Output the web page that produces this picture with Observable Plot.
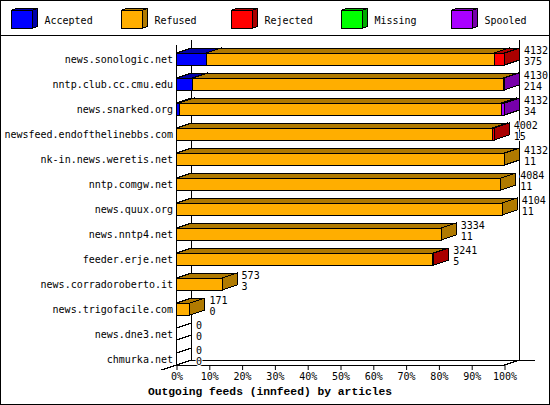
<!DOCTYPE html>
<html><head><meta charset="utf-8">
<script src="https://cdn.jsdelivr.net/npm/d3@7"></script>
<script src="https://cdn.jsdelivr.net/npm/@observablehq/plot@0.6"></script>
<style>
html,body{margin:0;padding:0;background:#fff}
#page{position:relative;width:550px;height:405px;overflow:hidden;background:#fff}
#page svg{display:block;background:transparent}
#border{position:absolute;left:0;top:0;width:550px;height:405px;box-sizing:border-box;border:1px solid #000;pointer-events:none}
#rule{height:1px;background:#000;position:absolute;left:0;top:35px;width:550px}
#caption{height:20px;text-align:left;padding-left:148px;font:bold 11.3px/14px "Liberation Mono","DejaVu Sans Mono",monospace;color:#000;white-space:pre}
</style></head><body>
<div id="page"><div id="legend"></div><div id="rule"></div><div id="main"></div><div id="caption">Outgoing feeds (innfeed) by articles</div><div id="border"></div></div>
<script>
const hosts = ["news.sonologic.net","nntp.club.cc.cmu.edu","news.snarked.org","newsfeed.endofthelinebbs.com","nk-in.news.weretis.net","nntp.comgw.net","news.quux.org","news.nntp4.net","feeder.erje.net","news.corradoroberto.it","news.trigofacile.com","news.dne3.net","chmurka.net"];
const seriesNames = ["Accepted","Refused","Rejected","Missing","Spooled"];
const frontColors = ["#0000ff","#ffae00","#ff0000","#00ff00","#aa00ff"];
const sideColors = ["#0000aa","#b07a00","#aa0000","#00aa00","#7700aa"];
// width of each segment, percent of the largest feed
const accepted = [9.07,4.9,0.8,0,0,0,0,0,0,0,0,0,0];
const refused  = [87.8,94.7,98.2,96.3,100,98.84,99.3,80.7,78.1,13.9,4.1,0,0];
const rejected = [3.13,0,0.2,0.55,0,0,0,0,0.33,0,0,0,0];
const missing  = [0,0,0,0,0,0,0,0,0,0,0,0,0];
const spooled  = [0,0.35,0.8,0,0,0,0,0,0,0,0,0,0];
const articles = [4132,4130,4132,4002,4132,4084,4104,3334,3241,573,171,0,0];
const sizes    = [375,214,34,15,11,11,11,11,5,3,0,0,0];
const xTicks = [0,10,20,30,40,50,60,70,80,90,100];

const seriesValues = [accepted,refused,rejected,missing,spooled];
const DX = 15, DY = 5;
const mono = '"DejaVu Sans Mono","Liberation Mono",monospace';

const segments = [];
hosts.forEach((host,i)=>{
  let start = 0;
  seriesValues.forEach((vals,s)=>{
    const w = vals[i];
    if (w > 0) { segments.push({host,s,x1:start,x2:start+w,fill:frontColors[s],side:sideColors[s]}); start += w; }
  });
  if (start === 0) segments.push({host,s:-1,x1:0,x2:0,fill:"none",side:"none"});
});
const rows = hosts.map((host,i)=>{
  const end = seriesValues.reduce((a,v)=>a+v[i],0);
  return {host,end,articles:articles[i],size:sizes[i]};
});

// Extrude each stacked bar into a box: top, right side, then front
function box(index, scales, values, dims, ctx){
  const g = d3.create("svg:g").attr("stroke","#000").attr("stroke-width",1).attr("shape-rendering","crispEdges").attr("stroke-linejoin","miter");
  const raw = scales.y.bandwidth;
  const bw = typeof raw === "function" ? raw() : raw;
  for (const i of index){
    const a=values.x1[i], b=values.x2[i], t=values.y[i], u=t+bw, d=segments[i];
    const poly=(pts,fill)=>g.append("polygon").attr("points",pts.map(p=>p.join(",")).join(" ")).attr("fill",fill);
    poly([[a,t],[a+DX,t-DY],[b+DX,t-DY],[b,t]],d.side);
    poly([[b,t],[b+DX,t-DY],[b+DX,u-DY],[b,u]],d.side);
    if (b>a) poly([[a,t],[b,t],[b,u],[a,u]],d.fill);
  }
  return g.node();
}

// Back wall, floor and front axis line
function walls(index, {x}, values, dims){
  const x0=x(0), x1=x(100), top=9, floor=329;
  const g=d3.create("svg:g").attr("stroke","#000").attr("fill","none").attr("shape-rendering","crispEdges");
  const seg=(a,b,c,e)=>g.append("line").attr("x1",a).attr("y1",b).attr("x2",c).attr("y2",e);
  seg(x0,top,x0,floor);
  seg(x0+DX,top-DY,x0+DX,floor-DY);
  seg(x1+DX,top-DY,x1+DX,floor-DY);
  seg(x0+DX,floor-DY,x1+DX+DX,floor-DY);
  seg(x0-DX,floor+DY,x0,floor);
  seg(x1,floor,x1+DX,floor-DY);
  seg(x0,floor,x1,floor);
  return g.node();
}

const main = Plot.plot({
  width:550, height:349,
  marginLeft:176.5, marginRight:45.5, marginTop:9, marginBottom:20,
  style:{fontFamily:mono,fontSize:"10px",color:"#000",background:"transparent",overflow:"visible"},
  x:{domain:[0,100],range:[176.5,504.5]},
  y:{domain:hosts,range:[10.5,335.5],paddingInner:0.52,paddingOuter:0.26,align:0.5},
  marks:[
    walls,
    Plot.barX(segments,{x1:"x1",x2:"x2",y:"host",render:box}),
    Plot.axisY({anchor:"left",tickSize:0,tickPadding:4,fontSize:10,label:null}),
    Plot.axisX({anchor:"bottom",ticks:xTicks,tickSize:5,tickPadding:2,tickFormat:d=>d+"%",fontSize:10,label:null,stroke:"#000"}),
    Plot.text(rows,{x:"end",y:"host",text:d=>String(d.articles),dx:19,dy:-9,textAnchor:"start",fontSize:10,fill:"#000",stroke:"#fff",strokeWidth:2}),
    Plot.text(rows,{x:"end",y:"host",text:d=>String(d.size),dx:19,dy:2,textAnchor:"start",fontSize:10,fill:"#000",stroke:"#fff",strokeWidth:2})
  ]
});
document.getElementById("main").append(main);

// Legend swatches share the box drawing
function swatch(index, scales, values){
  const g=d3.create("svg:g").attr("stroke","#000").attr("shape-rendering","crispEdges");
  const W=21,H=18,D=5,Dy=2;
  for(const i of index){
    const a=values.x[i], t=10.5, b=a+W, u=t+H;
    const poly=(pts,fill)=>g.append("polygon").attr("points",pts.map(p=>p.join(",")).join(" ")).attr("fill",fill);
    poly([[a,t],[a+D,t-Dy],[b+D,t-Dy],[b,t]],sideColors[i]);
    poly([[b,t],[b+D,t-Dy],[b+D,u-Dy],[b,u]],sideColors[i]);
    poly([[a,t],[b,t],[b,u],[a,u]],frontColors[i]);
  }
  return g.node();
}
const legend = Plot.plot({
  width:550,height:36,margin:0,
  style:{fontFamily:mono,fontSize:"10px",color:"#000",background:"transparent"},
  x:{type:"point",domain:seriesNames,range:[10.5,450.5],padding:0,axis:null},
  y:{axis:null,domain:[0,1],range:[36,0]},
  marks:[
    Plot.dot(seriesNames,{x:d=>d,frameAnchor:"middle",r:1,render:swatch}),
    Plot.text(seriesNames,{x:d=>d,frameAnchor:"middle",dx:33,dy:2,textAnchor:"start",fontSize:10,fill:"#000"})
  ]
});
document.getElementById("legend").append(legend);
</script>
</body></html>
